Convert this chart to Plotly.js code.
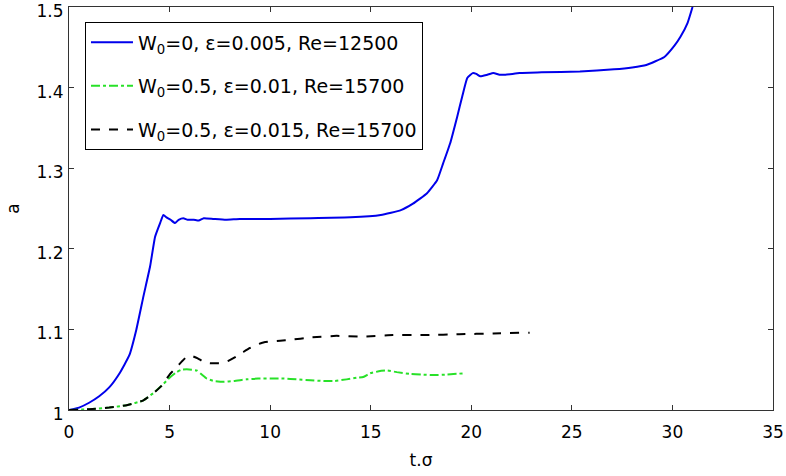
<!DOCTYPE html>
<html>
<head>
<meta charset="utf-8">
<script src="https://cdn.plot.ly/plotly-3.0.1.min.js"></script>
<style>html,body{margin:0;padding:0;background:#fff;}#chart{width:786px;height:476px;}</style>
</head>
<body>
<div id="chart"></div>
<script>
// Series 1: W0=0, eps=0.005, Re=12500
var tBlue = [0, 0.5, 1, 1.5, 2, 2.5, 3, 3.35, 3.7, 4.03, 4.28, 4.53, 4.69, 4.85, 5.05, 5.27, 5.45, 5.68, 5.9, 6.2, 6.45, 6.7, 7.2, 7.8, 8.5, 10, 12, 14, 15.5, 16.5, 17.1, 17.8, 18.3, 18.6, 18.95, 19.3, 19.55, 19.8, 20.07, 20.25, 20.45, 20.8, 21.1, 21.4, 21.7, 22.4, 23.5, 25.4, 27.1, 28, 28.7, 29.6, 30.1, 30.4, 30.75, 31.0];
var aBlue = [1, 1.003, 1.009, 1.017, 1.028, 1.045, 1.068, 1.1, 1.141, 1.178, 1.215, 1.232, 1.242, 1.239, 1.236, 1.232, 1.236, 1.238, 1.236, 1.236, 1.235, 1.238, 1.237, 1.236, 1.237, 1.237, 1.238, 1.239, 1.242, 1.248, 1.256, 1.269, 1.285, 1.306, 1.331, 1.364, 1.389, 1.412, 1.418, 1.417, 1.414, 1.416, 1.418, 1.416, 1.416, 1.418, 1.419, 1.42, 1.4227, 1.425, 1.428, 1.438, 1.452, 1.463, 1.48, 1.5];

// Series 2: W0=0.5, eps=0.01, Re=15700
var tGreen = [0, 1, 2, 2.87, 3.7, 4.2, 4.6, 5.0, 5.35, 5.6, 5.85, 6.1, 6.35, 6.6, 6.85, 7.2, 7.67, 8.2, 8.83, 9.4, 10, 10.7, 11.3, 12, 12.65, 13.2, 13.8, 14.3, 14.63, 14.97, 15.4, 15.8, 16.3, 16.95, 17.5, 18.1, 18.8, 19.6];
var aGreen = [1, 1.001, 1.003, 1.006, 1.012, 1.021, 1.03, 1.04, 1.047, 1.05, 1.0505, 1.05, 1.049, 1.044, 1.039, 1.036, 1.035, 1.036, 1.038, 1.039, 1.039, 1.039, 1.038, 1.037, 1.036, 1.036, 1.038, 1.04, 1.041, 1.0455, 1.048, 1.049, 1.047, 1.0447, 1.044, 1.0434, 1.044, 1.0455];

// Series 3: W0=0.5, eps=0.015, Re=15700
var tBlack = [0, 1, 2, 2.87, 3.7, 4.2, 4.6, 5.0, 5.35, 5.6, 5.85, 6.1, 6.4, 6.68, 7.0, 7.34, 7.6, 7.92, 8.3, 8.67, 9.0, 9.33, 9.7, 10, 10.5, 11, 12, 13.3, 14.5, 16.1, 17.8, 19.4, 21.1, 22.9];
var aBlack = [1, 1.001, 1.003, 1.006, 1.012, 1.021, 1.03, 1.044, 1.053, 1.06, 1.066, 1.067, 1.064, 1.06, 1.058, 1.058, 1.058, 1.061, 1.066, 1.072, 1.077, 1.081, 1.084, 1.085, 1.086, 1.087, 1.09, 1.092, 1.091, 1.093, 1.093, 1.094, 1.095, 1.096];

var seriesNames = [
  'W<sub>0</sub>=0, \u03b5=0.005, Re=12500',
  'W<sub>0</sub>=0.5, \u03b5=0.01, Re=15700',
  'W<sub>0</sub>=0.5, \u03b5=0.015, Re=15700'
];
var xTicks = [0, 5, 10, 15, 20, 25, 30, 35];
var yTicks = [1, 1.1, 1.2, 1.3, 1.4, 1.5];
var yTickLabels = ['1', '1.1', '1.2', '1.3', '1.4', '1.5'];

var FONT = 'DejaVu Sans, Verdana, sans-serif';

var traces = [
  {x: tBlue, y: aBlue, mode: 'lines', name: seriesNames[0], legendgroup: 'g1',
   line: {color: 'rgb(0,0,235)', width: 2, dash: 'solid', shape: 'spline', smoothing: 0.4}},
  {x: tGreen, y: aGreen, mode: 'lines', name: seriesNames[1], legendgroup: 'g2',
   line: {color: 'rgb(40,225,40)', width: 2, dash: 'dashdot', shape: 'spline', smoothing: 0.4}},
  {x: tBlack, y: aBlack, mode: 'lines', name: seriesNames[2], legendgroup: 'g3',
   line: {color: 'black', width: 2, dash: 'dash', shape: 'spline', smoothing: 0.4}}
];

var axisCommon = {
  showgrid: false, zeroline: false, showline: true, linecolor: '#333', linewidth: 1,
  mirror: 'ticks', ticks: 'inside', ticklen: 5, tickcolor: '#333',
  ticklabeloverflow: 'allow',
  tickfont: {family: FONT, size: 17, color: 'black'}
};

var layout = {
  width: 786, height: 476,
  margin: {l: 69, r: 13, t: 7, b: 66},
  paper_bgcolor: 'white', plot_bgcolor: 'white',
  font: {family: FONT, color: 'black', size: 17},
  showlegend: true,
  xaxis: Object.assign({}, axisCommon, {
    range: [0, 35], tickmode: 'array', tickvals: xTicks,
    ticklabelstandoff: 7,
    title: {text: 't.\u03c3', font: {family: FONT, size: 17, color: 'black'}, standoff: 12}
  }),
  yaxis: Object.assign({}, axisCommon, {
    range: [1, 1.50002], tickmode: 'array', tickvals: yTicks, ticktext: yTickLabels,
    ticklabelstandoff: 1, ticklabelshift: 4,
    title: {text: 'a', font: {family: FONT, size: 17, color: 'black'}, standoff: 12}
  }),
  legend: {
    x: 0.0227, y: 0.962, xanchor: 'left', yanchor: 'top',
    bgcolor: 'white', bordercolor: 'black', borderwidth: 1,
    font: {family: FONT, size: 19, color: 'black'},
    itemwidth: 42,
    traceorder: 'grouped', tracegroupgap: 16
  }
};

Plotly.newPlot('chart', traces, layout, {displayModeBar: false, staticPlot: true});
</script>
</body>
</html>
